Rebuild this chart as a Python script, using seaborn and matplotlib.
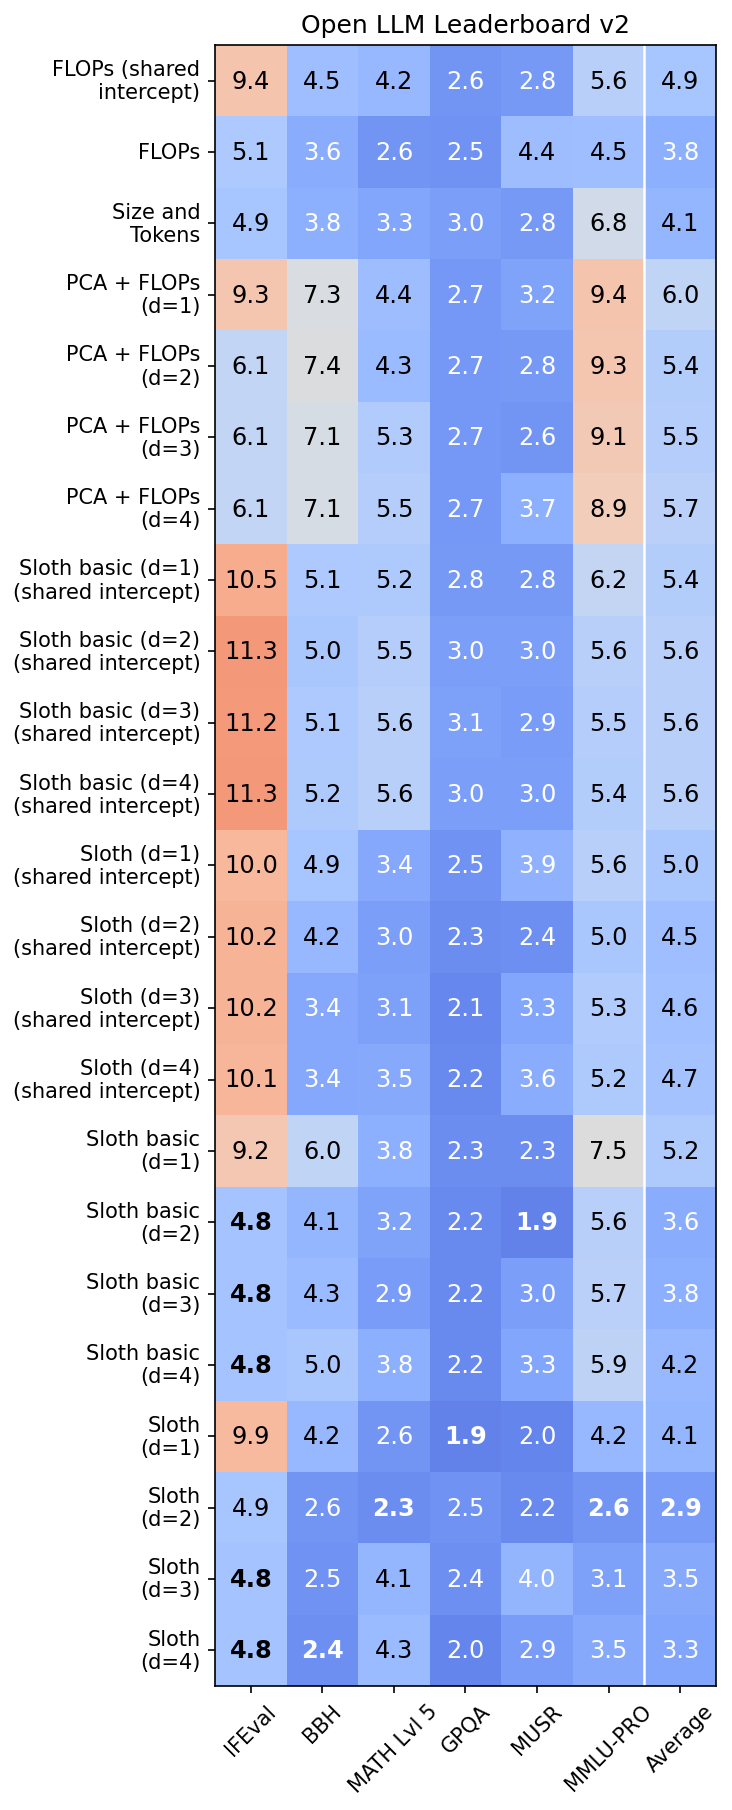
import numpy as np
import pandas as pd
import matplotlib
matplotlib.use("Agg")
import matplotlib.pyplot as plt
import seaborn as sns

columns = ["IFEval", "BBH", "MATH Lvl 5", "GPQA", "MUSR", "MMLU-PRO", "Average"]
models = [
    "FLOPs (shared\nintercept)", "FLOPs", "Size and\nTokens",
    "PCA + FLOPs\n(d=1)", "PCA + FLOPs\n(d=2)", "PCA + FLOPs\n(d=3)", "PCA + FLOPs\n(d=4)",
    "Sloth basic (d=1)\n(shared intercept)", "Sloth basic (d=2)\n(shared intercept)",
    "Sloth basic (d=3)\n(shared intercept)", "Sloth basic (d=4)\n(shared intercept)",
    "Sloth (d=1)\n(shared intercept)", "Sloth (d=2)\n(shared intercept)",
    "Sloth (d=3)\n(shared intercept)", "Sloth (d=4)\n(shared intercept)",
    "Sloth basic\n(d=1)", "Sloth basic\n(d=2)", "Sloth basic\n(d=3)", "Sloth basic\n(d=4)",
    "Sloth\n(d=1)", "Sloth\n(d=2)", "Sloth\n(d=3)", "Sloth\n(d=4)",
]

ifeval  = [9.4, 5.1, 4.9, 9.3, 6.1, 6.1, 6.1, 10.5, 11.3, 11.2, 11.3, 10.0, 10.2, 10.2, 10.1, 9.2, 4.8, 4.8, 4.8, 9.9, 4.9, 4.8, 4.8]
bbh     = [4.5, 3.6, 3.8, 7.3, 7.4, 7.1, 7.1, 5.1, 5.0, 5.1, 5.2, 4.9, 4.2, 3.4, 3.4, 6.0, 4.1, 4.3, 5.0, 4.2, 2.6, 2.5, 2.4]
math5   = [4.2, 2.6, 3.3, 4.4, 4.3, 5.3, 5.5, 5.2, 5.5, 5.6, 5.6, 3.4, 3.0, 3.1, 3.5, 3.8, 3.2, 2.9, 3.8, 2.6, 2.3, 4.1, 4.3]
gpqa    = [2.6, 2.5, 3.0, 2.7, 2.7, 2.7, 2.7, 2.8, 3.0, 3.1, 3.0, 2.5, 2.3, 2.1, 2.2, 2.3, 2.2, 2.2, 2.2, 1.9, 2.5, 2.4, 2.0]
musr    = [2.8, 4.4, 2.8, 3.2, 2.8, 2.6, 3.7, 2.8, 3.0, 2.9, 3.0, 3.9, 2.4, 3.3, 3.6, 2.3, 1.9, 3.0, 3.3, 2.0, 2.2, 4.0, 2.9]
mmlupro = [5.6, 4.5, 6.8, 9.4, 9.3, 9.1, 8.9, 6.2, 5.6, 5.5, 5.4, 5.6, 5.0, 5.3, 5.2, 7.5, 5.6, 5.7, 5.9, 4.2, 2.6, 3.1, 3.5]
average = [4.9, 3.8, 4.1, 6.0, 5.4, 5.5, 5.7, 5.4, 5.6, 5.6, 5.6, 5.0, 4.5, 4.6, 4.7, 5.2, 3.6, 3.8, 4.2, 4.1, 2.9, 3.5, 3.3]

df = pd.DataFrame(
    {"IFEval": ifeval, "BBH": bbh, "MATH Lvl 5": math5, "GPQA": gpqa,
     "MUSR": musr, "MMLU-PRO": mmlupro, "Average": average},
    index=models,
)[columns]

fig = plt.figure(figsize=(4.88, 12.073), dpi=150)
ax = fig.add_axes([0.2937, 0.0685, 0.6844, 0.9061])

sns.heatmap(df, ax=ax, cmap="coolwarm", vmin=0, vmax=15, annot=True, fmt=".1f",
            annot_kws={"fontsize": 11.5}, cbar=False)

# bold column minima, text colour by value
col_min = df.min(axis=0).values
vals = df.values
for t in ax.texts:
    x, y = t.get_position()
    c, r = int(x), int(y)
    v = vals[r, c]
    t.set_color("white" if v < 4.05 else "black")
    if np.isclose(v, col_min[c]):
        t.set_fontweight("bold")

ax.axvline(len(columns) - 1, color="white", lw=1.2)

for s in ax.spines.values():
    s.set_visible(True)
    s.set_linewidth(0.8)

ax.set_title("Open LLM Leaderboard v2", fontsize=12)
ax.set_yticklabels(models, rotation=0, fontsize=10)
ax.set_xticklabels(columns, rotation=45, fontsize=10)
ax.tick_params(axis="both", length=3.5, width=0.8)
ax.set_xlabel("")
ax.set_ylabel("")
ax.set_position([0.2937, 0.0685, 0.6844, 0.9061])

fig.savefig("out.png", dpi=150)
